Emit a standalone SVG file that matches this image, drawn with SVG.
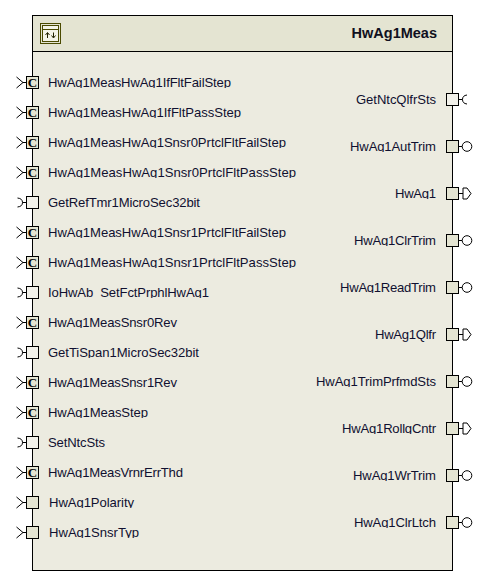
<svg xmlns="http://www.w3.org/2000/svg" width="489" height="585" viewBox="0 0 489 585">
<style>
.l{font:13.1px "Liberation Sans",Arial,sans-serif;fill:#101030;clip-path:url(#clip)}
.r{font:13.1px "Liberation Sans",Arial,sans-serif;fill:#101030;text-anchor:end;clip-path:url(#clip)}
.c{font:bold 13px "Liberation Serif",serif;fill:#000;text-anchor:middle}
.t{font:bold 14.5px "Liberation Sans",Arial,sans-serif;fill:#101020;text-anchor:end}
.k{fill:#f2f1ea;stroke:#000;stroke-width:1}
.o{fill:#e4e4d2;stroke:#000;stroke-width:1}
.w{fill:none;stroke:#000;stroke-width:1}
.n{fill:#fff;stroke:#000;stroke-width:1}
</style>
<defs>
<clipPath id="clip">
<rect x="44" y="74" width="266" height="14"/><rect x="44" y="104" width="266" height="14"/><rect x="44" y="134" width="266" height="14"/><rect x="44" y="164" width="266" height="14"/>
<rect x="44" y="194" width="266" height="14"/><rect x="44" y="224" width="266" height="14"/><rect x="44" y="254" width="266" height="14"/><rect x="44" y="284" width="266" height="14"/>
<rect x="44" y="314" width="266" height="14"/><rect x="44" y="344" width="266" height="14"/><rect x="44" y="374" width="266" height="14"/><rect x="44" y="404" width="266" height="14"/>
<rect x="44" y="434" width="266" height="14"/><rect x="44" y="464" width="266" height="14"/><rect x="44" y="494" width="266" height="14"/><rect x="44" y="524" width="266" height="14"/>
<rect x="312" y="91" width="130" height="16"/><rect x="312" y="138" width="130" height="14"/><rect x="312" y="185" width="130" height="14"/><rect x="312" y="232" width="130" height="14"/>
<rect x="312" y="279" width="130" height="14"/><rect x="312" y="326" width="130" height="16"/><rect x="312" y="373" width="130" height="14"/><rect x="312" y="420" width="130" height="14"/>
<rect x="312" y="467" width="130" height="14"/><rect x="312" y="514" width="130" height="14"/>
</clipPath>
<g id="req"><path class="w" d="M16.5 -5.5L23 0L16.5 5.5M23 0H26.5"/></g>
<g id="cli"><path class="w" d="M17.5 -4.5Q22.5 -4 22.5 0Q22.5 4 17.5 4.5M22.5 0H26.5"/></g>
</defs>
<rect id="body" x="32.5" y="15.5" width="420" height="555" fill="#ecebe0" stroke="#000"/>
<g id="header">
<rect x="32.5" y="15.5" width="420" height="36" fill="#e4e4d2" stroke="#000"/>
<rect x="40.5" y="23.5" width="20" height="20" fill="none" stroke="#4a4a00"/>
<rect x="42.5" y="25.5" width="16" height="16" fill="#f4f4e8" stroke="#4a4a00"/>
<path d="M42.5 29.5H58.5" stroke="#4a4a00" fill="none"/>
<path d="M47.5 38V33M45.5 35L47.5 32.5L49.5 35M53.5 32.5V37.5M51.5 35.5L53.5 38L55.5 35.5" stroke="#222200" fill="none"/>
<text class="t" x="437" y="38">HwAg1Meas</text>
</g>
<g id="connectors">
<use href="#req" y="82.5"/><use href="#req" y="112.5"/><use href="#req" y="142.5"/><use href="#req" y="172.5"/>
<use href="#cli" y="202.5"/>
<use href="#req" y="232.5"/><use href="#req" y="262.5"/>
<use href="#cli" y="292.5"/>
<use href="#req" y="322.5"/>
<use href="#cli" y="352.5"/>
<use href="#req" y="382.5"/><use href="#req" y="412.5"/>
<use href="#cli" y="442.5"/>
<use href="#req" y="472.5"/><use href="#req" y="502.5"/><use href="#req" y="532.5"/>
<path class="w" d="M458.5 99.5H462.5M467 95Q462.5 95.5 462.5 99.5Q462.5 103.5 467 104"/>
<path class="w" d="M458.5 146.5H462M458.5 193.5H463M458.5 240.5H462M458.5 287.5H462M458.5 334.5H463M458.5 381.5H462M458.5 428.5H463M458.5 475.5H462M458.5 522.5H462"/>
<g class="n">
<circle cx="467" cy="146.5" r="4.8"/><circle cx="467" cy="240.5" r="4.8"/><circle cx="467" cy="287.5" r="4.8"/><circle cx="467" cy="381.5" r="4.8"/><circle cx="467" cy="475.5" r="4.8"/><circle cx="467" cy="522.5" r="4.8"/>
<path d="M463 188H467L471 193.5L467 199H463Z"/>
<path d="M463 329H467L471 334.5L467 340H463Z"/>
<path d="M463 423H467L471 428.5L467 434H463Z"/>
</g>
</g>
<g id="n1"><rect class="o" x="26.5" y="76.5" width="12" height="12"/><text class="c" x="32.5" y="87">C</text><text class="l" x="48" y="87" textLength="183">HwAg1MeasHwAg1IfFltFailStep</text></g>
<g id="n2"><rect class="o" x="26.5" y="106.5" width="12" height="12"/><text class="c" x="32.5" y="117">C</text><text class="l" x="48" y="117" textLength="193">HwAg1MeasHwAg1IfFltPassStep</text></g>
<g id="n3"><rect class="o" x="26.5" y="136.5" width="12" height="12"/><text class="c" x="32.5" y="147">C</text><text class="l" x="48" y="147" textLength="238">HwAg1MeasHwAg1Snsr0PrtclFltFailStep</text></g>
<g id="n4"><rect class="o" x="26.5" y="166.5" width="12" height="12"/><text class="c" x="32.5" y="177">C</text><text class="l" x="48" y="177" textLength="248">HwAg1MeasHwAg1Snsr0PrtclFltPassStep</text></g>
<g id="n5"><rect class="k" x="26.5" y="196.5" width="12" height="12"/><text class="l" x="48" y="207" textLength="152">GetRefTmr1MicroSec32bit</text></g>
<g id="n6"><rect class="o" x="26.5" y="226.5" width="12" height="12"/><text class="c" x="32.5" y="237">C</text><text class="l" x="48" y="237" textLength="238">HwAg1MeasHwAg1Snsr1PrtclFltFailStep</text></g>
<g id="n7"><rect class="o" x="26.5" y="256.5" width="12" height="12"/><text class="c" x="32.5" y="267">C</text><text class="l" x="48" y="267" textLength="248">HwAg1MeasHwAg1Snsr1PrtclFltPassStep</text></g>
<g id="n8"><rect class="k" x="26.5" y="286.5" width="12" height="12"/><text class="l" x="48" y="297" textLength="161">IoHwAb_SetFctPrphlHwAg1</text></g>
<g id="n9"><rect class="o" x="26.5" y="316.5" width="12" height="12"/><text class="c" x="32.5" y="327">C</text><text class="l" x="48" y="327" textLength="129">HwAg1MeasSnsr0Rev</text></g>
<g id="n10"><rect class="k" x="26.5" y="346.5" width="12" height="12"/><text class="l" x="48" y="357" textLength="151">GetTiSpan1MicroSec32bit</text></g>
<g id="n11"><rect class="o" x="26.5" y="376.5" width="12" height="12"/><text class="c" x="32.5" y="387">C</text><text class="l" x="48" y="387" textLength="129">HwAg1MeasSnsr1Rev</text></g>
<g id="n12"><rect class="o" x="26.5" y="406.5" width="12" height="12"/><text class="c" x="32.5" y="417">C</text><text class="l" x="48" y="417" textLength="100">HwAg1MeasStep</text></g>
<g id="n13"><rect class="k" x="26.5" y="436.5" width="12" height="12"/><text class="l" x="48" y="447" textLength="57">SetNtcSts</text></g>
<g id="n14"><rect class="o" x="26.5" y="466.5" width="12" height="12"/><text class="c" x="32.5" y="477">C</text><text class="l" x="48" y="477" textLength="135">HwAg1MeasVrnrErrThd</text></g>
<g id="n15"><rect class="o" x="26.5" y="496.5" width="12" height="12"/><text class="l" x="49" y="507" textLength="85">HwAg1Polarity</text></g>
<g id="n16"><rect class="o" x="26.5" y="526.5" width="12" height="12"/><text class="l" x="49" y="537" textLength="90">HwAg1SnsrTyp</text></g>
<g id="r1"><rect class="k" x="446.5" y="93.5" width="12" height="12"/><text class="r" x="436" y="104" textLength="80">GetNtcQlfrSts</text></g>
<g id="r2"><rect class="o" x="446.5" y="140.5" width="12" height="12"/><text class="r" x="436" y="151" textLength="86">HwAg1AutTrim</text></g>
<g id="r3"><rect class="o" x="446.5" y="187.5" width="12" height="12"/><text class="r" x="436" y="198" textLength="41">HwAg1</text></g>
<g id="r4"><rect class="o" x="446.5" y="234.5" width="12" height="12"/><text class="r" x="436" y="245" textLength="82">HwAg1ClrTrim</text></g>
<g id="r5"><rect class="o" x="446.5" y="281.5" width="12" height="12"/><text class="r" x="436" y="292" textLength="96">HwAg1ReadTrim</text></g>
<g id="r6"><rect class="o" x="446.5" y="328.5" width="12" height="12"/><text class="r" x="436" y="339" textLength="61">HwAg1Qlfr</text></g>
<g id="r7"><rect class="o" x="446.5" y="375.5" width="12" height="12"/><text class="r" x="436" y="386" textLength="120">HwAg1TrimPrfmdSts</text></g>
<g id="r8"><rect class="o" x="446.5" y="422.5" width="12" height="12"/><text class="r" x="436" y="433" textLength="94">HwAg1RollgCntr</text></g>
<g id="r9"><rect class="o" x="446.5" y="469.5" width="12" height="12"/><text class="r" x="436" y="480" textLength="83">HwAg1WrTrim</text></g>
<g id="r10"><rect class="o" x="446.5" y="516.5" width="12" height="12"/><text class="r" x="436" y="527" textLength="82">HwAg1ClrLtch</text></g>
</svg>
